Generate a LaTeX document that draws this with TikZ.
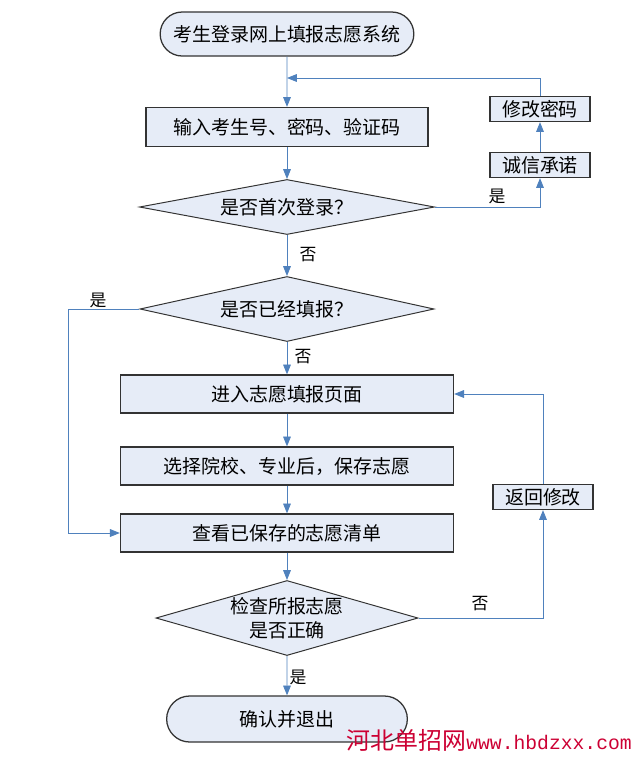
\documentclass[tikz,border=0pt]{standalone}
\usepackage{fontspec}
\newfontfamily\cjk{Noto Sans CJK SC}
\newfontfamily\wmmono{Liberation Mono}
\usetikzlibrary{shapes.geometric, shapes.misc, arrows.meta}
\definecolor{boxfill}{RGB}{230,236,247}
\definecolor{linkblue}{RGB}{79,129,189}
\definecolor{wmred}{RGB}{204,0,51}

\begin{document}
\begin{tikzpicture}[x=0.025cm, y=-0.025cm,
    every node/.style={font=\cjk\fontsize{13.5}{17}\selectfont},
    term/.style={draw=black!80, fill=boxfill, line width=0.9pt, rounded rectangle, minimum height=1.1cm},
    proc/.style={draw=black!80, fill=boxfill, line width=0.9pt, rectangle, minimum width=8.325cm, minimum height=0.95cm},
    small/.style={draw=black!80, fill=boxfill, line width=0.9pt, minimum width=2.5cm, minimum height=0.625cm, inner sep=0pt},
    choice/.style={draw=black!80, fill=boxfill, line width=0.7pt, diamond, inner sep=0pt},
    link/.style={draw=linkblue, line width=0.6pt},
    tip/.style={link, -{Triangle[length=7pt,width=5.5pt]}},
    lbl/.style={font=\cjk\fontsize{12}{14}\selectfont}]
    \useasboundingbox (0,0) rectangle (636,758) ;

    \node[term, minimum width=6.575cm] (start) at (287,34) {考生登录网上填报志愿系统} ;
    \node[proc, minimum width=7.05cm, minimum height=0.975cm] (input) at (287,127) {输入考生号、密码、验证码} ;
    \node[small] (xiugai) at (540,109) {修改密码} ;
    \node[small] (chengxin) at (540,165) {诚信承诺} ;
    \node[choice, aspect=5.36, minimum width=7.375cm, minimum height=1.375cm] (first) at (287,207) {是否首次登录？} ;
    \node[choice, aspect=4.5, minimum width=7.35cm, minimum height=1.625cm] (filled) at (287,309) {是否已经填报？} ;
    \node[proc] (enter) at (287,394) {进入志愿填报页面} ;
    \node[proc] (select) at (287,466) {选择院校、专业后，保存志愿} ;
    \node[proc] (view) at (287,533) {查看已保存的志愿清单} ;
    \node[small] (back) at (543,497) {返回修改} ;
    \node[choice, aspect=3.5, minimum width=6.55cm, minimum height=1.875cm, align=center] (check) at (287,618) {检查所报志愿\\是否正确} ;
    \node[term, minimum width=6.25cm, minimum height=1.15cm] (finish) at (287,719) {确认并退出} ;

    \coordinate (merge) at (287,78) ;
    \draw[tip] (start) -- (input) ;
    \draw[tip] (xiugai.north) |- (merge) ;
    \draw[tip] (input) -- (first) ;
    \draw[tip] (first.east) -| (chengxin.south) ;
    \draw[tip] (chengxin) -- (xiugai) ;
    \draw[tip] (first) -- (filled) ;
    \draw[tip] (filled.west) -- ++(-71,0) |- (view.west) ;
    \draw[tip] (filled) -- (enter) ;
    \draw[tip] (enter) -- (select) ;
    \draw[tip] (select) -- (view) ;
    \draw[tip] (view) -- (check) ;
    \draw[tip] (check.east) -| (back.south) ;
    \draw[tip] (back.north) |- (enter.east) ;
    \draw[tip] (check) -- (finish) ;

    \node[lbl] (yes1) at (497,196) {是} ;
    \node[lbl] (no1) at (308,255) {否} ;
    \node[lbl] (yes2) at (98,300) {是} ;
    \node[lbl] (no2) at (303,357) {否} ;
    \node[lbl] (no3) at (480,604) {否} ;
    \node[lbl] (yes3) at (298,677) {是} ;

    \node[text=wmred, inner sep=0pt, anchor=south east] (mark) at (632,752) {\cjk\fontsize{17}{20}\selectfont 河北单招网\wmmono\fontsize{14}{20}\selectfont www.hbdzxx.com} ;
\end{tikzpicture}
\end{document}
